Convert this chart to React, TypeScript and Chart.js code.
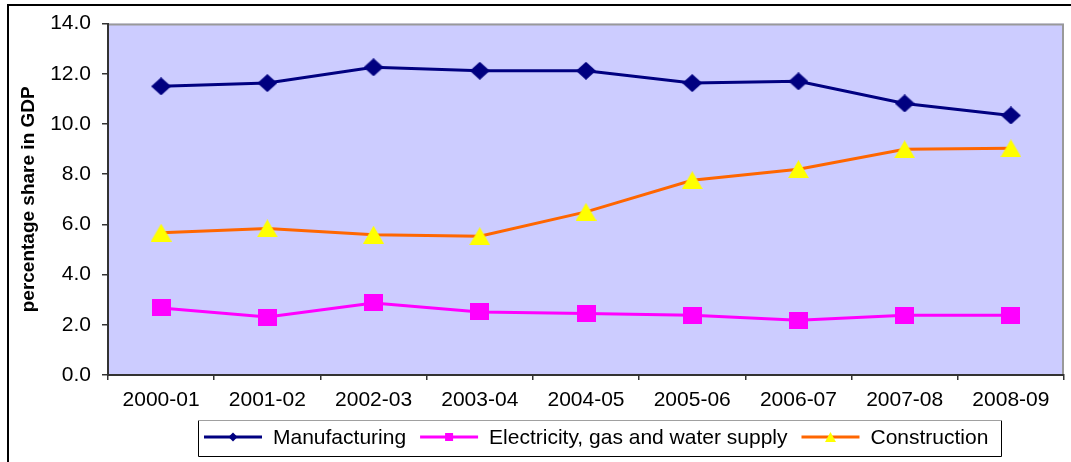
import React, { useEffect, useRef } from "react";
import { Chart, registerables } from "chart.js";

Chart.register(...registerables);

const categories = ["2000-01", "2001-02", "2002-03", "2003-04", "2004-05", "2005-06", "2006-07", "2007-08", "2008-09"];
const manufacturing = [11.5, 11.63, 12.26, 12.12, 12.12, 11.63, 11.7, 10.82, 10.34];
const electricity = [2.67, 2.31, 2.87, 2.51, 2.45, 2.38, 2.18, 2.38, 2.38];
const construction = [5.67, 5.84, 5.59, 5.53, 6.5, 7.76, 8.2, 8.99, 9.03];
const seriesNames = ["Manufacturing", "Electricity, gas and water supply", "Construction"];
const yAxisTitle = "percentage share in GDP";
const yMin = 0;
const yMax = 14;
const yStep = 2;

const FONT = "'Liberation Sans', Arial, sans-serif";
const NAVY = "#000080";
const MAGENTA = "#FF00FF";
const ORANGE = "#FF6600";
const YELLOW = "#FFFF00";

type Shape = "diamond" | "square" | "triangle";

function drawShape(ctx: CanvasRenderingContext2D, shape: Shape, cx: number, cy: number, w: number, h: number, color: string) {
  ctx.fillStyle = color;
  ctx.beginPath();
  if (shape === "diamond") {
    ctx.moveTo(cx, cy - h / 2);
    ctx.lineTo(cx + w / 2, cy);
    ctx.lineTo(cx, cy + h / 2);
    ctx.lineTo(cx - w / 2, cy);
  } else if (shape === "square") {
    ctx.rect(cx - w / 2, cy - h / 2, w, h);
  } else {
    ctx.moveTo(cx, cy - h / 2);
    ctx.lineTo(cx + w / 2, cy + h / 2);
    ctx.lineTo(cx - w / 2, cy + h / 2);
  }
  ctx.closePath();
  ctx.fill();
}

function makeMarker(shape: Shape, w: number, h: number, color: string): HTMLCanvasElement {
  const c = document.createElement("canvas");
  c.width = w;
  c.height = h;
  const ctx = c.getContext("2d")!;
  drawShape(ctx, shape, w / 2, h / 2, w, h, color);
  return c;
}

const decorPlugin = {
  id: "decor",
  beforeDraw(chart: any) {
    const { ctx, chartArea: a } = chart;
    ctx.save();
    ctx.fillStyle = "#CCCCFF";
    ctx.fillRect(a.left, a.top, a.right - a.left, a.bottom - a.top);
    ctx.strokeStyle = "#999999";
    ctx.lineWidth = 2;
    ctx.beginPath();
    ctx.moveTo(a.left, a.top + 1);
    ctx.lineTo(a.right - 1, a.top + 1);
    ctx.lineTo(a.right - 1, a.bottom);
    ctx.stroke();
    ctx.strokeStyle = "#000000";
    ctx.lineWidth = 2;
    ctx.beginPath();
    ctx.moveTo(8, 480);
    ctx.lineTo(8, 5);
    ctx.lineTo(1090, 5);
    ctx.stroke();
    ctx.restore();
  },
  afterDraw(chart: any) {
    const ctx: CanvasRenderingContext2D = chart.ctx;
    ctx.save();
    const boxL = 198, boxT = 420, boxR = 1001, boxB = 456;
    ctx.fillStyle = "#FFFFFF";
    ctx.fillRect(boxL, boxT, boxR - boxL, boxB - boxT);
    ctx.lineWidth = 1;
    ctx.strokeStyle = "#000000";
    ctx.beginPath();
    ctx.moveTo(boxL + 0.5, boxT + 0.5);
    ctx.lineTo(boxL + 0.5, boxB + 0.5);
    ctx.lineTo(boxR + 0.5, boxB + 0.5);
    ctx.lineTo(boxR + 0.5, boxT + 0.5);
    ctx.stroke();
    ctx.strokeStyle = "#A0A0A0";
    ctx.beginPath();
    ctx.moveTo(boxL + 0.5, boxT + 0.5);
    ctx.lineTo(boxR + 0.5, boxT + 0.5);
    ctx.stroke();

    const items = [
      { name: seriesNames[0], line: NAVY, marker: NAVY, shape: "diamond" as Shape, w: 9, h: 9 },
      { name: seriesNames[1], line: MAGENTA, marker: MAGENTA, shape: "square" as Shape, w: 8, h: 8 },
      { name: seriesNames[2], line: ORANGE, marker: YELLOW, shape: "triangle" as Shape, w: 11, h: 10 },
    ];
    ctx.font = `21px ${FONT}`;
    ctx.textBaseline = "middle";
    ctx.textAlign = "left";
    const cy = 437;
    let x = 204;
    for (const it of items) {
      ctx.strokeStyle = it.line;
      ctx.lineWidth = 3;
      ctx.beginPath();
      ctx.moveTo(x, cy);
      ctx.lineTo(x + 58, cy);
      ctx.stroke();
      drawShape(ctx, it.shape, x + 29, cy, it.w, it.h, it.marker);
      ctx.fillStyle = "#000000";
      ctx.fillText(it.name, x + 69, cy + 1);
      x += 69 + ctx.measureText(it.name).width + 14;
    }
    ctx.restore();
  },
};

export default function App() {
  const ref = useRef<HTMLCanvasElement | null>(null);

  useEffect(() => {
    if (!ref.current) return;
    const diamond = makeMarker("diamond", 20, 18, NAVY);
    const square = makeMarker("square", 19, 17, MAGENTA);
    const triangle = makeMarker("triangle", 21, 18, YELLOW);

    const chart = new Chart(ref.current, {
      type: "line",
      data: {
        labels: categories,
        datasets: [
          {
            label: seriesNames[0],
            data: manufacturing,
            borderColor: NAVY,
            backgroundColor: NAVY,
            borderWidth: 3,
            pointStyle: diamond as any,
            tension: 0,
          },
          {
            label: seriesNames[1],
            data: electricity,
            borderColor: MAGENTA,
            backgroundColor: MAGENTA,
            borderWidth: 3,
            pointStyle: square as any,
            tension: 0,
          },
          {
            label: seriesNames[2],
            data: construction,
            borderColor: ORANGE,
            backgroundColor: YELLOW,
            borderWidth: 3,
            pointStyle: triangle as any,
            tension: 0,
          },
        ],
      },
      options: {
        responsive: false,
        animation: false,
        devicePixelRatio: 1,
        layout: { padding: { left: 0, top: 22, right: 4, bottom: 50 } },
        plugins: {
          legend: { display: false },
          tooltip: { enabled: false },
        },
        scales: {
          x: {
            type: "category",
            offset: true,
            grid: {
              offset: true,
              drawOnChartArea: false,
              drawTicks: true,
              tickLength: 5,
              color: "#333333",
              lineWidth: 1.5,
            },
            border: { display: true, color: "#333333", width: 2 },
            ticks: {
              color: "#000000",
              font: { family: FONT, size: 21 },
              padding: 8,
              maxRotation: 0,
              autoSkip: false,
            },
            afterFit: (scale: any) => {
              scale.height = 37;
            },
          },
          y: {
            min: yMin,
            max: yMax,
            grid: {
              drawOnChartArea: false,
              drawTicks: true,
              tickLength: 6,
              color: "#333333",
              lineWidth: 1.5,
            },
            border: { display: true, color: "#333333", width: 2 },
            ticks: {
              stepSize: yStep,
              color: "#000000",
              font: { family: FONT, size: 21 },
              padding: 11,
              callback: (v: any) => Number(v).toFixed(1),
            },
            title: {
              display: true,
              text: yAxisTitle,
              color: "#000000",
              font: { family: FONT, size: 19, weight: "bold" },
              padding: { top: 17, bottom: 0 },
            },
            afterFit: (scale: any) => {
              scale.width = 108;
            },
          },
        },
      },
      plugins: [decorPlugin],
    });
    return () => chart.destroy();
  }, []);

  return (
    <canvas
      ref={ref}
      width={1071}
      height={462}
      style={{ position: "fixed", left: 0, top: 0, width: 1071, height: 462, background: "#FFFFFF" }}
    />
  );
}
